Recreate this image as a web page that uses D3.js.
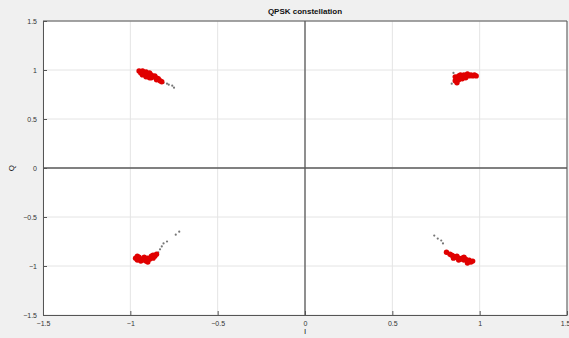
<!DOCTYPE html>
<html>
<head>
<meta charset="utf-8">
<script src="https://cdn.jsdelivr.net/npm/d3@7"></script>
<style>
  html, body { margin: 0; padding: 0; background: #f0f0f0; }
  svg { display: block; }
</style>
</head>
<body>
<svg id="chart" width="569" height="338"></svg>
<script>
// Axis ticks
const xTicks = [-1.5, -1, -0.5, 0, 0.5, 1, 1.5];
const yTicks = [-1.5, -1, -0.5, 0, 0.5, 1, 1.5];

// Received symbols (red) per quadrant
const symTopLeft = [[-0.95,0.99],[-0.94,0.97],[-0.93,0.99],[-0.92,0.96],[-0.93,0.95],[-0.91,0.98],[-0.90,0.96],[-0.90,0.94],[-0.89,0.97],[-0.88,0.95],[-0.87,0.93],[-0.88,0.92],[-0.86,0.94],[-0.85,0.92],[-0.85,0.90],[-0.84,0.91],[-0.83,0.89],[-0.82,0.88],[-0.91,0.93],[-0.89,0.92]];
const symTopRight = [[0.86,0.93],[0.88,0.94],[0.89,0.95],[0.90,0.94],[0.91,0.95],[0.92,0.94],[0.93,0.95],[0.94,0.94],[0.95,0.95],[0.96,0.94],[0.97,0.95],[0.98,0.94],[0.87,0.91],[0.88,0.90],[0.86,0.89],[0.87,0.87],[0.89,0.92],[0.90,0.91],[0.92,0.92],[0.93,0.96]];
const symBottomLeft = [[-0.97,-0.92],[-0.96,-0.94],[-0.95,-0.91],[-0.94,-0.95],[-0.93,-0.93],[-0.92,-0.94],[-0.92,-0.91],[-0.91,-0.95],[-0.90,-0.92],[-0.89,-0.93],[-0.88,-0.90],[-0.87,-0.92],[-0.87,-0.89],[-0.86,-0.90],[-0.85,-0.88],[-0.94,-0.93],[-0.90,-0.96],[-0.96,-0.90]];
const symBottomRight = [[0.81,-0.86],[0.83,-0.88],[0.84,-0.89],[0.85,-0.90],[0.86,-0.91],[0.87,-0.90],[0.88,-0.92],[0.89,-0.93],[0.90,-0.92],[0.91,-0.94],[0.92,-0.93],[0.93,-0.95],[0.94,-0.94],[0.95,-0.96],[0.96,-0.95],[0.85,-0.92],[0.88,-0.94],[0.91,-0.91],[0.93,-0.97]];

// Transient samples (gray trails)
const trailTopLeft = [[-0.81,0.87],[-0.79,0.86],[-0.78,0.85],[-0.76,0.84],[-0.75,0.82]];
const trailTopRight = [[0.84,0.86],[0.85,0.97]];
const trailBottomLeft = [[-0.84,-0.86],[-0.83,-0.83],[-0.82,-0.80],[-0.81,-0.77],[-0.79,-0.75],[-0.74,-0.68],[-0.72,-0.65]];
const trailBottomRight = [[0.74,-0.69],[0.76,-0.72],[0.78,-0.74],[0.79,-0.77]];

const W = 569, H = 338;
const margin = { left: 43, right: 2, top: 21, bottom: 23 };
const iW = W - margin.left - margin.right;
const iH = H - margin.top - margin.bottom;

const svg = d3.select("#chart");
const xS = d3.scaleLinear([-1.5, 1.5], [margin.left, margin.left + iW]);
const yS = d3.scaleLinear([-1.5, 1.5], [margin.top + iH, margin.top]);

// plot area
svg.append("rect").attr("x", margin.left).attr("y", margin.top)
  .attr("width", iW).attr("height", iH).attr("fill", "#fff");

// grid
xTicks.forEach(t => {
  svg.append("line").attr("x1", xS(t)).attr("x2", xS(t))
    .attr("y1", margin.top).attr("y2", margin.top + iH)
    .attr("stroke", "#e4e4e4").attr("stroke-width", 1);
});
yTicks.forEach(t => {
  svg.append("line").attr("x1", margin.left).attr("x2", margin.left + iW)
    .attr("y1", yS(t)).attr("y2", yS(t))
    .attr("stroke", "#e4e4e4").attr("stroke-width", 1);
});

// zero lines
svg.append("line").attr("x1", xS(0)).attr("x2", xS(0))
  .attr("y1", margin.top).attr("y2", margin.top + iH)
  .attr("stroke", "#5a5a5a").attr("stroke-width", 1.3);
svg.append("line").attr("x1", margin.left).attr("x2", margin.left + iW)
  .attr("y1", yS(0)).attr("y2", yS(0))
  .attr("stroke", "#5a5a5a").attr("stroke-width", 1.3);

// trails
[trailTopLeft, trailTopRight, trailBottomLeft, trailBottomRight].forEach(pts => {
  svg.append("g").selectAll("circle").data(pts).join("circle")
    .attr("cx", d => xS(d[0])).attr("cy", d => yS(d[1]))
    .attr("r", 1.1).attr("fill", "#777");
});

// symbols
[symTopLeft, symTopRight, symBottomLeft, symBottomRight].forEach(pts => {
  svg.append("g").selectAll("circle").data(pts).join("circle")
    .attr("cx", d => xS(d[0])).attr("cy", d => yS(d[1]))
    .attr("r", 2.7).attr("fill", "#e00000");
});

// axes (MATLAB style: ticks inward, box)
const xAxis = d3.axisBottom(xS).tickValues(xTicks).tickSizeInner(-4).tickSizeOuter(0)
  .tickPadding(6).tickFormat(d3.format("~g"));
const yAxis = d3.axisLeft(yS).tickValues(yTicks).tickSizeInner(-4).tickSizeOuter(0)
  .tickPadding(6).tickFormat(d3.format("~g"));

const gx = svg.append("g").attr("transform", `translate(0,${margin.top + iH})`).call(xAxis);
const gy = svg.append("g").attr("transform", `translate(${margin.left},0)`).call(yAxis);
[gx, gy].forEach(g => {
  g.select(".domain").attr("stroke", "#555");
  g.selectAll(".tick line").attr("stroke", "#555");
  g.selectAll("text").attr("font-family", "Liberation Sans, Arial, sans-serif")
    .attr("font-size", 7).attr("fill", "#333");
});
// keep the last x label inside the window
gx.selectAll(".tick text").filter(d => d === 1.5).attr("text-anchor", "end").attr("dx", 3);

// top/right box
svg.append("line").attr("x1", margin.left).attr("x2", margin.left + iW)
  .attr("y1", margin.top).attr("y2", margin.top).attr("stroke", "#555");
svg.append("line").attr("x1", margin.left + iW).attr("x2", margin.left + iW)
  .attr("y1", margin.top).attr("y2", margin.top + iH).attr("stroke", "#555");

// title + labels
svg.append("text").attr("x", xS(0)).attr("y", 14)
  .attr("text-anchor", "middle").attr("font-family", "Liberation Sans, Arial, sans-serif")
  .attr("font-size", 8).attr("font-weight", 700).attr("fill", "#111")
  .text("QPSK constellation");
svg.append("text").attr("x", xS(0)).attr("y", 334)
  .attr("text-anchor", "middle").attr("font-family", "Liberation Sans, Arial, sans-serif")
  .attr("font-size", 8).attr("fill", "#222").text("I");
svg.append("text").attr("x", 14).attr("y", yS(0))
  .attr("transform", `rotate(-90, 14, ${yS(0)})`)
  .attr("text-anchor", "middle").attr("font-family", "Liberation Sans, Arial, sans-serif")
  .attr("font-size", 8).attr("fill", "#222").text("Q");
</script>
</body>
</html>
